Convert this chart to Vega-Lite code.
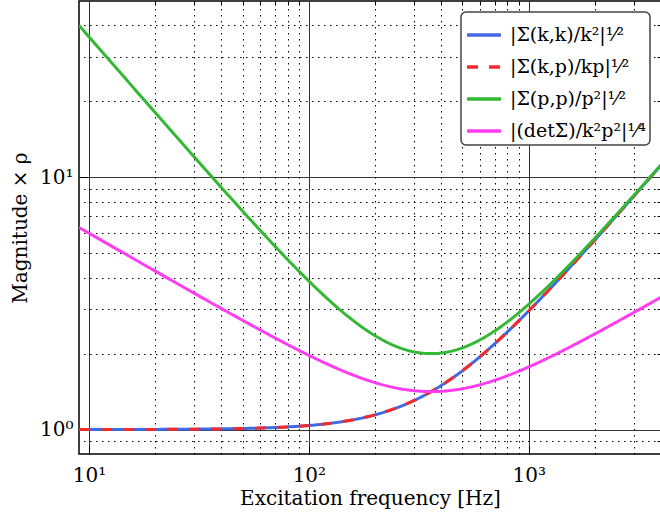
{
  "$schema": "https://vega.github.io/schema/vega-lite/v6.json",
  "width": 582,
  "height": 453,
  "autosize": {"type": "none"},
  "padding": {"left": 79, "top": 1, "right": 0, "bottom": 67},
  "config": {
    "font": "DejaVu Serif",
    "view": {"stroke": "black", "strokeWidth": 1.5},
    "legend": {
      "orient": "top-right",
      "offset": 11,
      "fillColor": "white",
      "strokeColor": "#444444",
      "strokeWidth": 1.5,
      "cornerRadius": 5,
      "padding": 4,
      "symbolType": "stroke",
      "symbolStrokeWidth": 3.5,
      "symbolSize": 1150,
      "labelFont": "DejaVu Serif",
      "labelFontSize": 19,
      "labelColor": "black",
      "labelOffset": 7,
      "rowPadding": 3,
      "labelLimit": 300
    }
  },
  "data": {
    "values": [
      {"f": 9, "kk": 1.0003, "kp": 1.0003, "pp": 40.03, "det": 6.327},
      {"f": 10, "kk": 1.0004, "kp": 1.0004, "pp": 36.03, "det": 6.002},
      {"f": 12, "kk": 1.0006, "kp": 1.0006, "pp": 30.03, "det": 5.48},
      {"f": 15, "kk": 1.0009, "kp": 1.0009, "pp": 24.04, "det": 4.903},
      {"f": 20, "kk": 1.0015, "kp": 1.0015, "pp": 18.06, "det": 4.249},
      {"f": 25, "kk": 1.0024, "kp": 1.0024, "pp": 14.47, "det": 3.804},
      {"f": 30, "kk": 1.0035, "kp": 1.0035, "pp": 12.08, "det": 3.476},
      {"f": 40, "kk": 1.0062, "kp": 1.0062, "pp": 9.111, "det": 3.018},
      {"f": 50, "kk": 1.0096, "kp": 1.0096, "pp": 7.339, "det": 2.709},
      {"f": 60, "kk": 1.0138, "kp": 1.0138, "pp": 6.167, "det": 2.483},
      {"f": 80, "kk": 1.0244, "kp": 1.0244, "pp": 4.722, "det": 2.173},
      {"f": 100, "kk": 1.0379, "kp": 1.0379, "pp": 3.878, "det": 1.969},
      {"f": 120, "kk": 1.0541, "kp": 1.0541, "pp": 3.333, "det": 1.826},
      {"f": 150, "kk": 1.0833, "kp": 1.0833, "pp": 2.817, "det": 1.678},
      {"f": 200, "kk": 1.144, "kp": 1.144, "pp": 2.356, "det": 1.535},
      {"f": 250, "kk": 1.2175, "kp": 1.2175, "pp": 2.134, "det": 1.461},
      {"f": 300, "kk": 1.3017, "kp": 1.3017, "pp": 2.033, "det": 1.426},
      {"f": 360, "kk": 1.4142, "kp": 1.4142, "pp": 2.0, "det": 1.4142},
      {"f": 400, "kk": 1.4948, "kp": 1.4948, "pp": 2.011, "det": 1.418},
      {"f": 450, "kk": 1.6008, "kp": 1.6008, "pp": 2.05, "det": 1.432},
      {"f": 500, "kk": 1.7114, "kp": 1.7114, "pp": 2.109, "det": 1.452},
      {"f": 600, "kk": 1.9437, "kp": 1.9437, "pp": 2.267, "det": 1.506},
      {"f": 700, "kk": 2.1865, "kp": 2.1865, "pp": 2.459, "det": 1.568},
      {"f": 800, "kk": 2.4369, "kp": 2.4369, "pp": 2.672, "det": 1.635},
      {"f": 1000, "kk": 2.9523, "kp": 2.9523, "pp": 3.138, "det": 1.771},
      {"f": 1200, "kk": 3.4801, "kp": 3.4801, "pp": 3.633, "det": 1.906},
      {"f": 1500, "kk": 4.285, "kp": 4.285, "pp": 4.407, "det": 2.099},
      {"f": 2000, "kk": 5.6448, "kp": 5.6448, "pp": 5.736, "det": 2.395},
      {"f": 2500, "kk": 7.0161, "kp": 7.0161, "pp": 7.088, "det": 2.662},
      {"f": 3000, "kk": 8.3931, "kp": 8.3931, "pp": 8.453, "det": 2.907},
      {"f": 3500, "kk": 9.7735, "kp": 9.7735, "pp": 9.825, "det": 3.134},
      {"f": 4000, "kk": 11.156, "kp": 11.156, "pp": 11.201, "det": 3.347}
    ]
  },
  "transform": [{"fold": ["kk", "kp", "pp", "det"], "as": ["s", "v"]}],
  "resolve": {"axis": {"x": "independent", "y": "independent"}},
  "layer": [
    {
      "transform": [{"filter": "datum.s == 'kk'"}],
      "mark": {"type": "line", "strokeWidth": 3, "interpolate": "monotone", "clip": true},
      "encoding": {
        "x": {
          "field": "f", "type": "quantitative",
          "scale": {"type": "log", "domain": [9, 4000], "nice": false},
          "axis": {
            "orient": "bottom",
            "values": [10, 100, 1000],
            "labelExpr": "datum.value == 10 ? '10¹' : datum.value == 100 ? '10²' : '10³'",
            "labelFontSize": 20, "labelFont": "DejaVu Serif", "labelColor": "black", "labelPadding": 19,
            "grid": true, "gridColor": "black", "gridWidth": 0.8, "gridOpacity": 1,
            "tickSize": -8, "tickColor": "black", "domain": false,
            "title": "Excitation frequency [Hz]", "titleFontSize": 20, "titleFont": "DejaVu Serif", "titleFontWeight": "normal", "titleColor": "black", "titlePadding": 3
          }
        },
        "y": {
          "field": "v", "type": "quantitative",
          "scale": {"type": "log", "domain": [0.8, 50], "nice": false},
          "axis": {
            "orient": "left",
            "values": [1, 10],
            "labelExpr": "datum.value == 1 ? '10⁰' : '10¹'",
            "labelFontSize": 20, "labelFont": "DejaVu Serif", "labelColor": "black", "labelPadding": 14,
            "grid": true, "gridColor": "black", "gridWidth": 0.8, "gridOpacity": 1,
            "tickSize": -8, "tickColor": "black", "domain": false,
            "title": "Magnitude × ρ", "titleFontSize": 20, "titleFont": "DejaVu Serif", "titleFontWeight": "normal", "titleColor": "black", "titlePadding": 9
          }
        },
        "color": {
          "field": "s", "type": "nominal",
          "scale": {"domain": ["kk", "kp", "pp", "det"], "range": ["#4169e1", "#f52a2a", "#33b833", "#ff3cf0"]},
          "legend": {"title": null, "labelExpr": "datum.value == 'kk' ? '|Σ(k,k)/k²|¹⁄²' : datum.value == 'kp' ? '|Σ(k,p)/kp|¹⁄²' : datum.value == 'pp' ? '|Σ(p,p)/p²|¹⁄²' : '|(detΣ)/k²p²|¹⁄⁴'"}
        },
        "strokeDash": {
          "field": "s", "type": "nominal",
          "scale": {"domain": ["kk", "kp", "pp", "det"], "range": [[1, 0], [11, 11], [1, 0], [1, 0]]},
          "legend": {"title": null, "labelExpr": "datum.value == 'kk' ? '|Σ(k,k)/k²|¹⁄²' : datum.value == 'kp' ? '|Σ(k,p)/kp|¹⁄²' : datum.value == 'pp' ? '|Σ(p,p)/p²|¹⁄²' : '|(detΣ)/k²p²|¹⁄⁴'"}
        }
      }
    },
    {
      "transform": [{"filter": "datum.s == 'kp'"}],
      "mark": {"type": "line", "strokeWidth": 3, "interpolate": "monotone", "clip": true},
      "encoding": {
        "x": {
          "field": "f", "type": "quantitative",
          "axis": {
            "orient": "top",
            "values": [20, 30, 40, 50, 60, 70, 80, 90, 200, 300, 400, 500, 600, 700, 800, 900, 2000, 3000],
            "labels": false, "grid": true, "gridColor": "black", "gridWidth": 1, "gridDash": [1.5, 4.5], "gridOpacity": 1,
            "tickSize": -4, "tickColor": "black", "domain": false, "title": null
          }
        },
        "y": {
          "field": "v", "type": "quantitative",
          "axis": {
            "orient": "right",
            "values": [0.9, 2, 3, 4, 5, 6, 7, 8, 9, 20, 30, 40],
            "labels": false, "grid": true, "gridColor": "black", "gridWidth": 1, "gridDash": [1.5, 4.5], "gridOpacity": 1,
            "tickSize": -4, "tickColor": "black", "domain": false, "title": null
          }
        },
        "color": {"field": "s", "type": "nominal"},
        "strokeDash": {"field": "s", "type": "nominal"}
      }
    },
    {
      "transform": [{"filter": "datum.s == 'pp'"}],
      "mark": {"type": "line", "strokeWidth": 3, "interpolate": "monotone", "clip": true},
      "encoding": {
        "x": {"field": "f", "type": "quantitative", "axis": null},
        "y": {"field": "v", "type": "quantitative", "axis": null},
        "color": {"field": "s", "type": "nominal"},
        "strokeDash": {"field": "s", "type": "nominal"}
      }
    },
    {
      "transform": [{"filter": "datum.s == 'det'"}],
      "mark": {"type": "line", "strokeWidth": 3, "interpolate": "monotone", "clip": true},
      "encoding": {
        "x": {"field": "f", "type": "quantitative", "axis": null},
        "y": {"field": "v", "type": "quantitative", "axis": null},
        "color": {"field": "s", "type": "nominal"},
        "strokeDash": {"field": "s", "type": "nominal"}
      }
    }
  ]
}
